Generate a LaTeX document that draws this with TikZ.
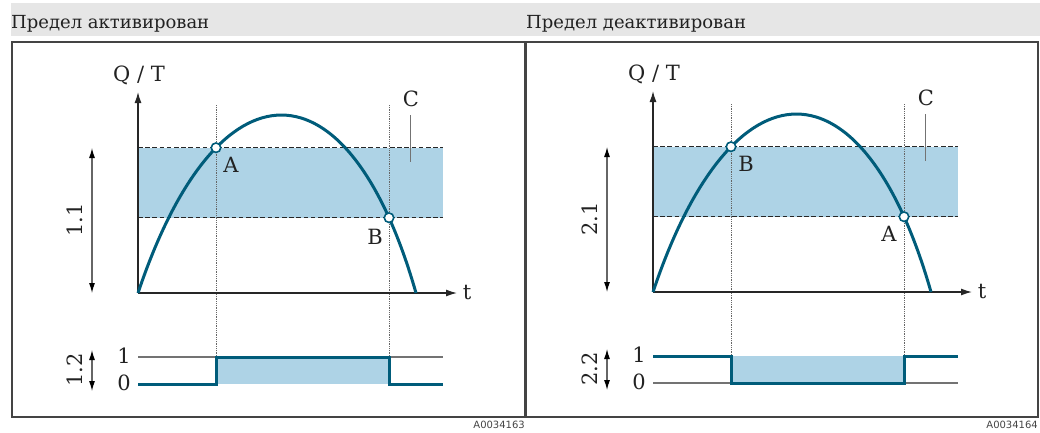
\documentclass[tikz,border=0pt]{standalone}
\usepackage{fontspec}
\setmainfont{DejaVu Serif}
\newfontfamily\smallsans{DejaVu Sans}
\usetikzlibrary{arrows.meta}
\definecolor{curvecol}{RGB}{0,92,122}
\definecolor{bandcol}{RGB}{174,211,230}
\definecolor{headcol}{RGB}{230,230,230}
\definecolor{framecol}{RGB}{68,68,68}
\definecolor{txtcol}{RGB}{34,34,34}
\begin{document}
\begin{tikzpicture}[x=1pt,y=-1pt,
  lbl/.style={inner sep=0pt,text=txtcol,font=\fontsize{21}{24}\selectfont},
  headtxt/.style={inner sep=0pt,text=txtcol,anchor=base west,font=\fontsize{18}{22}\selectfont},
  codetxt/.style={inner sep=0pt,text=framecol,anchor=north east,font=\smallsans\fontsize{10}{12}\selectfont},
  myframe/.style={draw=framecol,line width=2.4pt},
  myaxis/.style={draw=black!85,line width=1.3pt,-{Latex[length=11pt,width=7pt]}},
  dimarr/.style={draw=black!60,line width=1.1pt,{Latex[length=10pt,width=6pt]}-{Latex[length=10pt,width=6pt]},
    arrows={[color=black]}},
  dashln/.style={draw=black!85,line width=1.2pt,dash pattern=on 4.5pt off 2.7pt},
  dotln/.style={draw=black!60,line width=0.9pt,dash pattern=on 0.8pt off 1pt},
  mycurve/.style={draw=curvecol,line width=3pt},
  mysignal/.style={draw=curvecol,line width=3pt,line join=miter},
  levelln/.style={draw=black!55,line width=1.1pt},
  leader/.style={draw=black!55,line width=1.4pt},
  ptmark/.style={circle,draw=curvecol,fill=white,line width=1.6pt,minimum size=9.5pt,inner sep=0pt}
]
\useasboundingbox (0,0) rectangle (1040,432);
% header band
\fill[headcol] (11,3) rectangle (1040,36);
\node[headtxt] (h1) at (11,28) {Предел активирован};
\node[headtxt] (h2) at (526,28) {Предел деактивирован};
% frame
\draw[myframe] (12,42) rectangle (1038,417);
\draw[myframe,line width=3pt] (525,42) -- (525,417);
\node[codetxt] (c1) at (525,421) {A0034163};
\node[codetxt] (c2) at (1038,421) {A0034164};

% ---------- left panel ----------
\begin{scope}
  \coordinate (O1) at (138,293);
  \coordinate (Y1) at (138,92);
  \coordinate (X1) at (457,293);
  \coordinate (BTl1) at (138,147.7);
  \coordinate (BTr1) at (443,147.7);
  \coordinate (BBl1) at (138,217.7);
  \coordinate (BBr1) at (443,217.7);
  \coordinate (E1) at (416,293);
  \fill[bandcol] (BTl1) rectangle (BBr1);
  \draw[dashln] (BTl1) -- (BTr1);
  \draw[dashln] (BBl1) -- (BBr1);
  \coordinate (DAt1) at (216,105);
  \coordinate (DAb1) at (216,357);
  \coordinate (DBt1) at (389,105);
  \coordinate (DBb1) at (389,357);
  \draw[dotln] (DAt1) -- (DAb1);
  \draw[dotln] (DBt1) -- (DBb1);
  \draw[myaxis] (O1) -- (Y1);
  \draw[myaxis] (O1) -- (X1);
  \draw[mycurve] (O1) .. controls (217.6,55.7) and (348.2,55.7) .. (E1);
  \node[ptmark] (pA1) at (216,147.7) {};
  \node[ptmark] (pB1) at (389,217.7) {};
  \node[lbl] (la1) at (231,165) {A};
  \node[lbl] (lb1) at (375,237) {B};
  \node[lbl] (lc1) at (411,99) {C};
  \coordinate (Ct1) at (410.7,115);
  \coordinate (Cb1) at (410.7,162);
  \draw[leader] (Ct1) -- (Cb1);
  \node[lbl] (qt1) at (139,75) {Q / T};
  \node[lbl] (t1) at (467,292) {t};
  \coordinate (d1t) at (92,148);
  \coordinate (d1b) at (92,293);
  \draw[dimarr] (d1t) -- (d1b);
  \node[lbl,rotate=90] (n11) at (75,220) {1.1};
  % lower chart
  \coordinate (L1a) at (138,357);
  \coordinate (L1b) at (443,357);
  \draw[levelln] (L1a) -- (L1b);
  \fill[bandcol] (216,357) rectangle (389,384);
  \coordinate (S1a) at (138,384);
  \coordinate (S1f) at (443,384);
  \draw[mysignal] (S1a) -- (216,384) -- (216,357) -- (389,357) -- (389,384) -- (S1f);
  \node[lbl,anchor=east] (one1) at (131,356) {1};
  \node[lbl,anchor=east] (zero1) at (131,383) {0};
  \coordinate (d2t) at (92,350);
  \coordinate (d2b) at (92,391);
  \draw[dimarr] (d2t) -- (d2b);
  \node[lbl,rotate=90] (n12) at (75,370) {1.2};
\end{scope}

% ---------- right panel ----------
\begin{scope}[xshift=515pt,yshift=1pt]
  \coordinate (O2) at (138,293);
  \coordinate (Y2) at (138,92);
  \coordinate (X2) at (457,293);
  \coordinate (BTl2) at (138,147.7);
  \coordinate (BTr2) at (443,147.7);
  \coordinate (BBl2) at (138,217.7);
  \coordinate (BBr2) at (443,217.7);
  \coordinate (E2) at (416,293);
  \fill[bandcol] (BTl2) rectangle (BBr2);
  \draw[dashln] (BTl2) -- (BTr2);
  \draw[dashln] (BBl2) -- (BBr2);
  \coordinate (DAt2) at (216,105);
  \coordinate (DAb2) at (216,357);
  \coordinate (DBt2) at (389,105);
  \coordinate (DBb2) at (389,357);
  \draw[dotln] (DAt2) -- (DAb2);
  \draw[dotln] (DBt2) -- (DBb2);
  \draw[myaxis] (O2) -- (Y2);
  \draw[myaxis] (O2) -- (X2);
  \draw[mycurve] (O2) .. controls (217.6,55.7) and (348.2,55.7) .. (E2);
  \node[ptmark] (pB2) at (216,147.7) {};
  \node[ptmark] (pA2) at (389,217.7) {};
  \node[lbl] (lb2) at (231,165) {B};
  \node[lbl] (la2) at (374,235) {A};
  \node[lbl] (lc2) at (411,99) {C};
  \coordinate (Ct2) at (410.7,115);
  \coordinate (Cb2) at (410.7,162);
  \draw[leader] (Ct2) -- (Cb2);
  \node[lbl] (qt2) at (139,75) {Q / T};
  \node[lbl] (t2) at (467,292) {t};
  \coordinate (d3t) at (92,148);
  \coordinate (d3b) at (92,293);
  \draw[dimarr] (d3t) -- (d3b);
  \node[lbl,rotate=90] (n21) at (75,220) {2.1};
  % lower chart
  \coordinate (L0a) at (138,384);
  \coordinate (L0b) at (443,384);
  \draw[levelln] (L0a) -- (L0b);
  \fill[bandcol] (216,357) rectangle (389,384);
  \coordinate (S2a) at (138,357);
  \coordinate (S2f) at (443,357);
  \draw[mysignal] (S2a) -- (216,357) -- (216,384) -- (389,384) -- (389,357) -- (S2f);
  \node[lbl,anchor=east] (one2) at (131,356) {1};
  \node[lbl,anchor=east] (zero2) at (131,383) {0};
  \coordinate (d4t) at (92,350);
  \coordinate (d4b) at (92,391);
  \draw[dimarr] (d4t) -- (d4b);
  \node[lbl,rotate=90] (n22) at (75,370) {2.2};
\end{scope}
\end{tikzpicture}
\end{document}
